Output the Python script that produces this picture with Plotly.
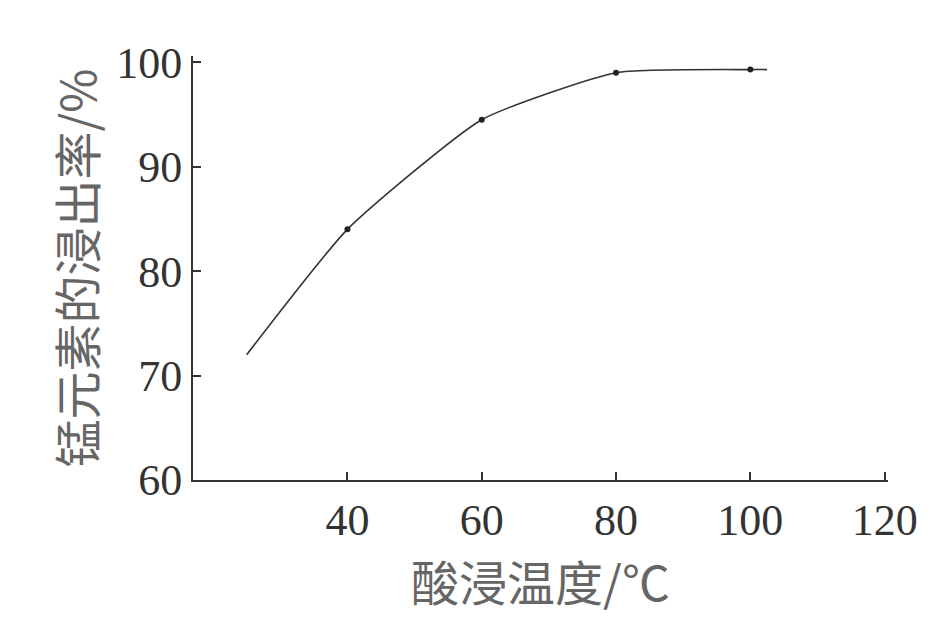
import plotly.graph_objects as go

# Data
temp = [25, 40, 60, 80, 100, 102.5]          # 酸浸温度 /℃
leach = [72, 84, 94.5, 99.0, 99.3, 99.3]     # 锰元素的浸出率 /%
marker_temp = [40, 60, 80, 100]
marker_leach = [84, 94.5, 99.0, 99.3]

x_ticks = [40, 60, 80, 100, 120]
y_ticks = [60, 70, 80, 90, 100]

fig = go.Figure()
fig.add_trace(go.Scatter(
    x=temp, y=leach, mode="lines",
    line=dict(color="#333333", width=1.6, shape="spline", smoothing=0.5),
    hoverinfo="skip", showlegend=False))
fig.add_trace(go.Scatter(
    x=marker_temp, y=marker_leach, mode="markers",
    marker=dict(color="#222222", size=6),
    showlegend=False))

serif = "Liberation Serif, Times New Roman, serif"
fig.update_layout(
    width=932, height=619,
    margin=dict(l=185, r=52, t=48, b=147),
    paper_bgcolor="white", plot_bgcolor="white",
    font=dict(family=serif, color="#333333"),
    xaxis=dict(
        range=[17, 120.5], tickvals=x_ticks, ticktext=[str(v) for v in x_ticks],
        showgrid=False, zeroline=False, showline=True, linecolor="#333333", linewidth=2,
        ticks="inside", ticklen=8, tickwidth=2, tickcolor="#333333",
        tickfont=dict(family=serif, size=44, color="#333333"),
        title=dict(text="酸浸温度/℃", standoff=8,
                   font=dict(family="Noto Sans CJK SC, serif", size=48, color="#666666")),
    ),
    yaxis=dict(
        range=[60, 100.6], tickvals=y_ticks, ticktext=[str(v) for v in y_ticks],
        showgrid=False, zeroline=False, showline=True, linecolor="#333333", linewidth=2,
        ticks="inside", ticklen=8, tickwidth=2, tickcolor="#333333",
        tickfont=dict(family=serif, size=44, color="#333333"),
        title=dict(text="锰元素的浸出率/%", standoff=4,
                   font=dict(family="Noto Sans CJK SC, serif", size=48, color="#666666")),
    ),
)

fig.write_html("out.html")
